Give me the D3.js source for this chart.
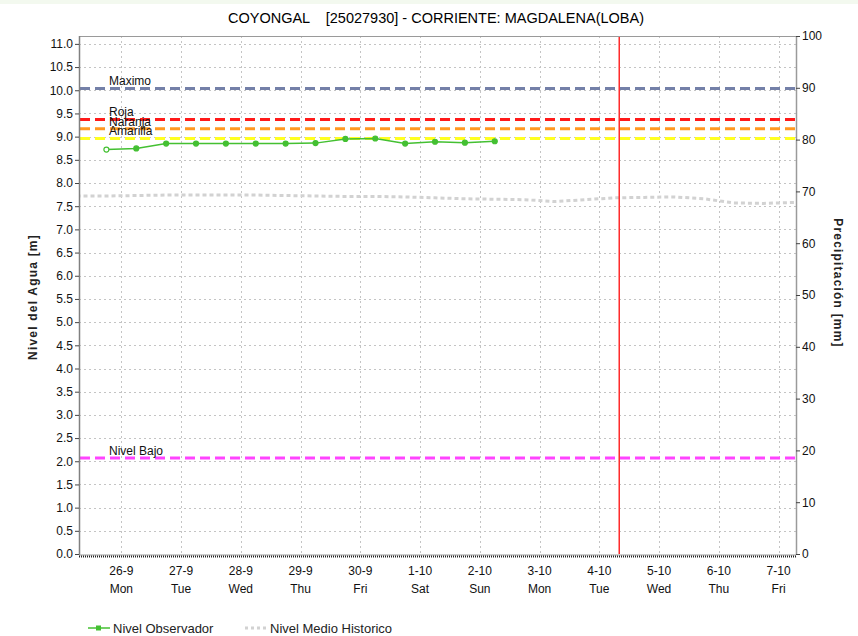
<!DOCTYPE html>
<html><head><meta charset="utf-8">
<script src="https://cdn.jsdelivr.net/npm/d3@7"></script>
<style>
body{margin:0;background:#fff;}
svg{display:block;font-family:"Liberation Sans",Arial,sans-serif;}
</style></head>
<body>
<svg id="c" width="858" height="636"></svg>
<script>
const title = "COYONGAL    [25027930] - CORRIENTE: MAGDALENA(LOBA)";
const dayTicks = ["2022-09-26","2022-09-27","2022-09-28","2022-09-29","2022-09-30","2022-10-01","2022-10-02","2022-10-03","2022-10-04","2022-10-05","2022-10-06","2022-10-07"];
const dayNames = ["Mon","Tue","Wed","Thu","Fri","Sat","Sun","Mon","Tue","Wed","Thu","Fri"];
const leftTicks = d3.range(0, 11.01, 0.5);
const rightTicks = [0,10,20,30,40,50,60,70,80,90,100];
// Nivel Observador (12-hourly)
const obsTimes = ["2022-09-25T18:00","2022-09-26T06:00","2022-09-26T18:00","2022-09-27T06:00","2022-09-27T18:00","2022-09-28T06:00","2022-09-28T18:00","2022-09-29T06:00","2022-09-29T18:00","2022-09-30T06:00","2022-09-30T18:00","2022-10-01T06:00","2022-10-01T18:00","2022-10-02T06:00"];
const obsValues = [8.72,8.745,8.85,8.85,8.85,8.85,8.85,8.86,8.95,8.96,8.85,8.89,8.87,8.9];
// Nivel Medio Historico
const histTimes = ["2022-09-25T06:00","2022-09-25T18:00","2022-09-26T06:00","2022-09-26T18:00","2022-09-27T06:00","2022-09-27T18:00","2022-09-28T06:00","2022-09-28T18:00","2022-09-29T06:00","2022-09-29T18:00","2022-09-30T06:00","2022-09-30T18:00","2022-10-01T06:00","2022-10-01T18:00","2022-10-02T06:00","2022-10-02T18:00","2022-10-03T06:00","2022-10-03T18:00","2022-10-04T06:00","2022-10-04T18:00","2022-10-05T06:00","2022-10-05T18:00","2022-10-06T06:00","2022-10-06T18:00","2022-10-07T06:00","2022-10-07T18:00"];
const histValues = [7.72,7.72,7.73,7.74,7.74,7.74,7.74,7.73,7.72,7.71,7.71,7.70,7.68,7.66,7.65,7.64,7.60,7.64,7.68,7.69,7.70,7.66,7.57,7.56,7.58,7.58];
// Threshold levels
const thrNames = ["Maximo","Roja","Naranja","Amarilla","Nivel Bajo"];
const thrValues = [10.04,9.37,9.17,8.96,2.07];
const thrColors = ["#7480a8","#ff1a1a","#ff9922","#ffff22","#ff44ff"];
const nowTime = "2022-10-04T08:00";

const svg = d3.select("#c");
const L=79, R=796, T=36, B=554;
const parse = d3.isoParse;
const x = d3.scaleTime().domain([parse("2022-09-25T07:00"), parse("2022-10-07T07:00")]).range([L,R]);
const yL = d3.scaleLinear().domain([0,11.17]).range([B,T]);
const yR = d3.scaleLinear().domain([0,100]).range([B,T]);

svg.append("rect").attr("x",0).attr("y",0).attr("width",858).attr("height",4).attr("fill","#f3f9ef");

// title
svg.append("text").attr("x",436).attr("y",23).attr("text-anchor","middle").attr("font-size",14.5)
  .style("white-space","pre").attr("xml:space","preserve").text(title);

const g = svg.append("g");
g.selectAll(".hg").data(leftTicks.filter(d=>d>0)).join("line")
  .attr("x1",L).attr("x2",R).attr("y1",d=>Math.round(yL(d))+0.5).attr("y2",d=>Math.round(yL(d))+0.5)
  .attr("stroke","#c4c4c4").attr("stroke-dasharray","2,3");
g.selectAll(".vg").data(dayTicks).join("line")
  .attr("x1",d=>Math.round(x(parse(d)))+0.5).attr("x2",d=>Math.round(x(parse(d)))+0.5).attr("y1",T).attr("y2",B)
  .attr("stroke","#c4c4c4").attr("stroke-dasharray","2,3");

svg.append("clipPath").attr("id","pc").append("rect").attr("x",L).attr("y",T).attr("width",R-L).attr("height",B-T);
const histData = histTimes.map((t,i)=>[parse(t),histValues[i]]);
svg.append("path").attr("clip-path","url(#pc)").attr("d",d3.line().x(d=>x(d[0])).y(d=>yL(d[1]))(histData))
  .attr("fill","none").attr("stroke","#d2d2d2").attr("stroke-width",3).attr("stroke-dasharray","4,3");

thrValues.forEach((v,i)=>{
  svg.append("line").attr("x1",L+1).attr("x2",R).attr("y1",yL(v)).attr("y2",yL(v))
    .attr("stroke",thrColors[i]).attr("stroke-width",3).attr("stroke-dasharray","10,5");
});
thrValues.forEach((v,i)=>{
  svg.append("text").attr("x",109).attr("y",yL(v)-3).attr("font-size",12).attr("fill","#111").text(thrNames[i]);
});

svg.append("line").attr("x1",x(parse(nowTime))).attr("x2",x(parse(nowTime))).attr("y1",T).attr("y2",B)
  .attr("stroke","#ff2a2a").attr("stroke-width",1.5);

const obsData = obsTimes.map((t,i)=>[parse(t),obsValues[i]]);
svg.append("path").attr("d",d3.line().x(d=>x(d[0])).y(d=>yL(d[1]))(obsData))
  .attr("fill","none").attr("stroke","#44c032").attr("stroke-width",1.5);
svg.selectAll(".pt").data(obsData).join("circle")
  .attr("cx",d=>x(d[0])).attr("cy",d=>yL(d[1])).attr("r",2.5)
  .attr("fill",(d,i)=>i===0?"#fff":"#44c032").attr("stroke","#44c032").attr("stroke-width",1.2);

svg.append("line").attr("x1",L).attr("x2",R).attr("y1",T+0.5).attr("y2",T+0.5).attr("stroke","#9a9a9a");
svg.append("line").attr("x1",L+0.5).attr("x2",L+0.5).attr("y1",T).attr("y2",B+1).attr("stroke","#808080").attr("stroke-width",1.5);
svg.append("line").attr("x1",R+0.5).attr("x2",R+0.5).attr("y1",T).attr("y2",B+1).attr("stroke","#9a9a9a").attr("stroke-width",1.5);
svg.append("line").attr("x1",L).attr("x2",R).attr("y1",B+1).attr("y2",B+1).attr("stroke","#9a9a9a").attr("stroke-width",1);
svg.append("line").attr("x1",L).attr("x2",R).attr("y1",B+2.5).attr("y2",B+2.5).attr("stroke","#222").attr("stroke-width",2).attr("stroke-dasharray","1,1");

const la = svg.append("g").attr("transform",`translate(${L},0)`)
  .call(d3.axisLeft(yL).tickValues(leftTicks).tickFormat(d3.format(".1f")).tickSize(4).tickPadding(2));
la.select(".domain").remove();
la.selectAll("text").attr("font-size",12).attr("fill","#111").attr("font-family","Liberation Sans, Arial, sans-serif");
la.selectAll("line").attr("stroke","#444");
const ra = svg.append("g").attr("transform",`translate(${R},0)`)
  .call(d3.axisRight(yR).tickValues(rightTicks).tickSize(4).tickPadding(2));
ra.select(".domain").remove();
ra.selectAll("text").attr("font-size",12).attr("fill","#111").attr("font-family","Liberation Sans, Arial, sans-serif");
ra.selectAll("line").attr("stroke","#444");

dayTicks.forEach((d,i)=>{
  const xx = x(parse(d));
  const p = d.split("-");
  svg.append("text").attr("x",xx).attr("y",575).attr("text-anchor","middle").attr("font-size",12).attr("fill","#111")
    .text(`${+p[2]}-${+p[1]}`);
  svg.append("text").attr("x",xx).attr("y",593).attr("text-anchor","middle").attr("font-size",12).attr("fill","#111")
    .text(dayNames[i]);
});

svg.append("text").attr("transform","translate(37,297) rotate(-90)").attr("text-anchor","middle")
  .attr("font-size",12).attr("font-weight","bold").attr("letter-spacing",1.2).attr("fill","#222").text("Nivel del Agua [m]");
svg.append("text").attr("transform","translate(834,283) rotate(90)").attr("text-anchor","middle")
  .attr("font-size",12).attr("font-weight","bold").attr("letter-spacing",1.2).attr("fill","#222").text("Precipitación [mm]");

svg.append("line").attr("x1",88).attr("x2",110).attr("y1",628).attr("y2",628).attr("stroke","#44c032").attr("stroke-width",1.5);
svg.append("rect").attr("x",96).attr("y",625.5).attr("width",5).attr("height",5).attr("fill","#44c032");
svg.append("text").attr("x",113).attr("y",633).attr("font-size",13).attr("fill","#222").text("Nivel Observador");
svg.append("line").attr("x1",245).attr("x2",266).attr("y1",628).attr("y2",628).attr("stroke","#d2d2d2").attr("stroke-width",3).attr("stroke-dasharray","3,3");
svg.append("text").attr("x",270).attr("y",633).attr("font-size",13).attr("fill","#222").text("Nivel Medio Historico");
</script>
</body></html>
